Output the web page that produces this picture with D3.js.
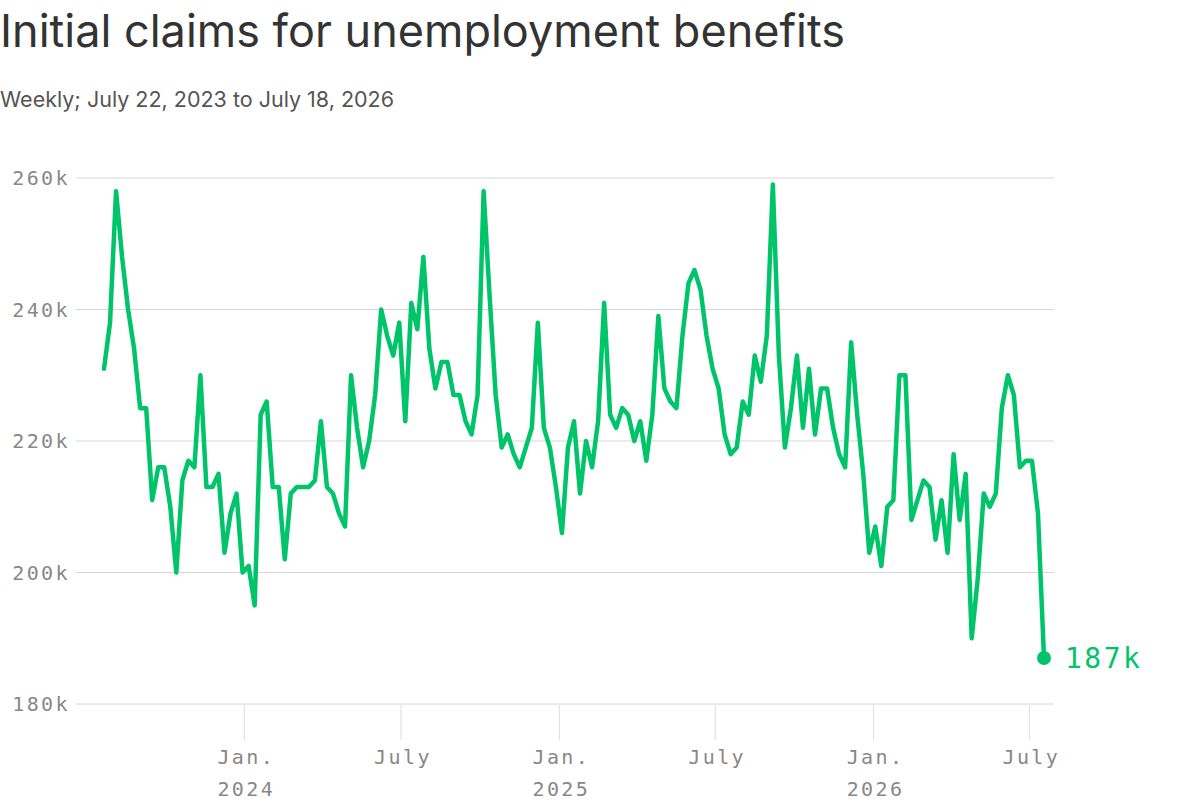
<!DOCTYPE html>
<html>
<head>
<meta charset="utf-8">
<script src="https://cdn.jsdelivr.net/npm/d3@7/dist/d3.min.js"></script>
<style>
  html, body { margin: 0; padding: 0; background: #fff; }
  svg { display: block; }
</style>
</head>
<body>
<svg id="chart" width="1200" height="812"></svg>
<script>
// ---- DATA ----
const title = "Initial claims for unemployment benefits";
const subtitle = "Weekly; July 22, 2023 to July 18, 2026";
const startDate = "2023-07-22";
// weekly initial claims, thousands
const claims = [
  231, 238, 258, 248, 240, 234, 225, 225, 211, 216,
  216, 210, 200, 214, 217, 216, 230, 213, 213, 215,
  203, 209, 212, 200, 201, 195, 224, 226, 213, 213,
  202, 212, 213, 213, 213, 214, 223, 213, 212, 209,
  207, 230, 222, 216, 220, 227, 240, 236, 233, 238,
  223, 241, 237, 248, 234, 228, 232, 232, 227, 227,
  223, 221, 227, 258, 242, 227, 219, 221, 218, 216,
  219, 222, 238, 222, 219, 213, 206, 219, 223, 212,
  220, 216, 223, 241, 224, 222, 225, 224, 220, 223,
  217, 224, 239, 228, 226, 225, 236, 244, 246, 243,
  236, 231, 228, 221, 218, 219, 226, 224, 233, 229,
  236, 259, 233, 219, 225, 233, 222, 231, 221, 228,
  228, 222, 218, 216, 235, 224, 215, 203, 207, 201,
  210, 211, 230, 230, 208, 211, 214, 213, 205, 211,
  203, 218, 208, 215, 190, 199, 212, 210, 212, 225,
  230, 227, 216, 217, 217, 209, 187
];
const yTicks = [180, 200, 220, 240, 260];
const xTickDates = ["2024-01-01", "2024-07-01", "2025-01-01", "2025-07-01", "2026-01-01", "2026-07-01"];
const xTickLabels = [["Jan.", "2024"], ["July", ""], ["Jan.", "2025"], ["July", ""], ["Jan.", "2026"], ["July", ""]];
const lastLabel = "187k";

// ---- CHART ----
const parse = d3.utcParse("%Y-%m-%d");
const t0 = parse(startDate);
const data = claims.map((v, i) => ({ date: d3.utcDay.offset(t0, 7 * i), value: v }));

const svg = d3.select("#chart");
const green = "#00c46a";
const monoFont = "'DejaVu Sans Mono', 'Liberation Mono', monospace";

const x = d3.scaleUtc()
  .domain([data[0].date, data[data.length - 1].date])
  .range([104, 1044]);
const y = d3.scaleLinear().domain([180, 260]).range([704, 178]);

// title
svg.append("text")
  .attr("x", 0).attr("y", 47)
  .attr("font-family", "Inter, 'Open Sans', sans-serif")
  .attr("font-size", 45)
  .attr("fill", "#333")
  .text(title);

svg.append("text")
  .attr("x", 0).attr("y", 107)
  .attr("font-family", "Inter, 'Open Sans', sans-serif")
  .attr("font-size", 21.5)
  .attr("fill", "#555")
  .text(subtitle);

// y grid + labels
const yAxis = svg.append("g");
yAxis.selectAll("line").data(yTicks).join("line")
  .attr("x1", 76).attr("x2", 1054)
  .attr("y1", d => y(d)).attr("y2", d => y(d))
  .attr("stroke", "#d6d6d6").attr("stroke-width", 1);
yAxis.selectAll("text").data(yTicks).join("text")
  .attr("x", 70).attr("y", d => y(d))
  .attr("dy", "0.36em")
  .attr("text-anchor", "end")
  .attr("font-family", monoFont)
  .attr("font-size", 20)
  .attr("letter-spacing", 2.4)
  .attr("fill", "#888")
  .text(d => d + "k");

// x ticks
const xg = svg.append("g");
const xt = xTickDates.map((d, i) => ({ date: parse(d), lab: xTickLabels[i] }));
xg.selectAll("line").data(xt).join("line")
  .attr("x1", d => x(d.date)).attr("x2", d => x(d.date))
  .attr("y1", 705).attr("y2", 740)
  .attr("stroke", "#ddd").attr("stroke-width", 1);
xg.selectAll("text.m").data(xt).join("text").attr("class", "m")
  .attr("x", d => x(d.date) + 2).attr("y", 764)
  .attr("text-anchor", "middle")
  .attr("font-family", monoFont)
  .attr("font-size", 20)
  .attr("letter-spacing", 2.4)
  .attr("fill", "#888")
  .text(d => d.lab[0]);
xg.selectAll("text.yr").data(xt).join("text").attr("class", "yr")
  .attr("x", d => x(d.date) + 2).attr("y", 796)
  .attr("text-anchor", "middle")
  .attr("font-family", monoFont)
  .attr("font-size", 20)
  .attr("letter-spacing", 2.4)
  .attr("fill", "#888")
  .text(d => d.lab[1]);

// line
const line = d3.line().x(d => x(d.date)).y(d => y(d.value));
svg.append("path")
  .datum(data)
  .attr("d", line)
  .attr("fill", "none")
  .attr("stroke", green)
  .attr("stroke-width", 4.5)
  .attr("stroke-linejoin", "round")
  .attr("stroke-linecap", "round");

const last = data[data.length - 1];
svg.append("circle")
  .attr("cx", x(last.date)).attr("cy", y(last.value))
  .attr("r", 7).attr("fill", green);
svg.append("text")
  .attr("x", x(last.date) + 21).attr("y", y(last.value))
  .attr("dy", "0.36em")
  .attr("font-family", monoFont)
  .attr("font-size", 28)
  .attr("letter-spacing", 2.5)
  .attr("fill", green)
  .text(lastLabel);
</script>
</body>
</html>
